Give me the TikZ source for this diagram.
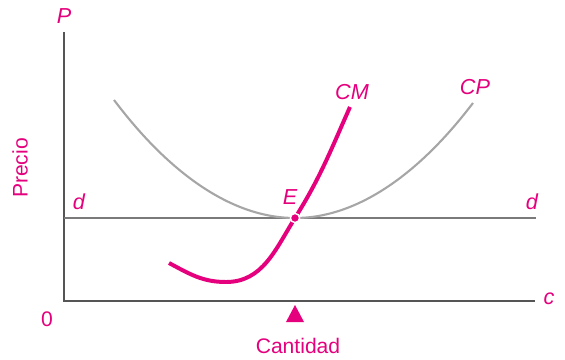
\documentclass[tikz,border=0pt]{standalone}
\usepackage{fontspec}
\setmainfont{Liberation Sans}
\usetikzlibrary{positioning,calc}
\definecolor{magenta}{HTML}{E5007D}
\definecolor{axisgray}{HTML}{555555}
\definecolor{linegray}{HTML}{7A7A7A}
\definecolor{curvegray}{HTML}{A6A6A6}

\begin{document}
\begin{tikzpicture}[
  x=0.03cm, y=-0.03cm,
  axis/.style={draw=axisgray, line width=1.5pt},
  dline/.style={draw=linegray, line width=2.4pt},
  cost/.style={draw=curvegray, line width=1.8pt},
  marg/.style={draw=magenta, line width=3.4pt},
  lbl/.style={text=magenta, font=\fontsize{18.5}{21}\selectfont\itshape, inner sep=0pt},
  txt/.style={text=magenta, font=\fontsize{18}{21}\selectfont, inner sep=0pt}
]
  \useasboundingbox (0,0) rectangle (565,359);

  \coordinate (O) at (64,301);
  \coordinate (top) at (64,32);
  \coordinate (right) at (535,301);
  \coordinate (dl) at (64,218);
  \coordinate (dr) at (536,218);
  \coordinate (E) at (295,218);

  \draw[axis] (top) -- (O) -- (right);
  \draw[dline] (dl) -- (dr);

  \draw[cost] (114,100) parabola bend (E) (473,103);
  \draw[marg] (169,263) to[out=-28,in=180] (226,282) to[out=0,in=-122] (E)
    to[out=58,in=-114] (350,107);
  \fill[magenta, draw=white, line width=1.2pt] (E) circle (4.6);

  \node[lbl] (P) at (64,16) {P};
  \node[lbl] (c) at (549,299) {c};
  \node[lbl] (d1) at (79,202) {d};
  \node[lbl] (d2) at (532,202) {d};
  \node[lbl] (Elbl) at (290,197) {E};
  \node[lbl] (CM) at (352,92) {CM};
  \node[lbl] (CP) at (475,87) {CP};
  \node[txt] (zero) at (47,319) {0};
  \node[txt, rotate=90] (precio) at (20,168) {Precio};
  \node[txt] (cant) at (298,346) {Cantidad};
  \fill[magenta] (286,322) -- (304,322) -- (295,305) -- cycle;
\end{tikzpicture}
\end{document}
